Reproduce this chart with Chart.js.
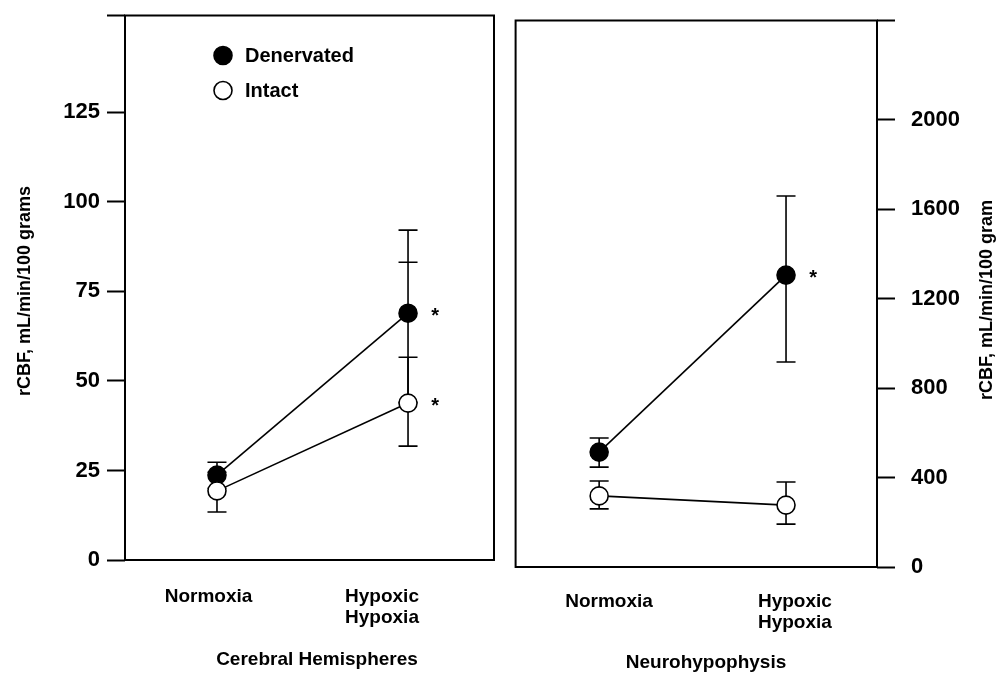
<!DOCTYPE html>
<html>
<head>
<meta charset="utf-8">
<script src="https://cdn.jsdelivr.net/npm/chart.js@4.4.0/dist/chart.umd.min.js"></script>
<style>
  html, body { margin: 0; padding: 0; background: #fff; }
  #wrap { position: relative; width: 998px; height: 676px; }
  canvas { position: absolute; top: 0; }
  #chartLeft { left: 0; }
  #chartRight { left: 505px; }
</style>
</head>
<body>
<div id="wrap">
  <canvas id="chartLeft" width="505" height="676"></canvas>
  <canvas id="chartRight" width="493" height="676"></canvas>
</div>
<script>
// ===== Data =====
const conditions = ['Normoxia', ['Hypoxic', 'Hypoxia']];
const seriesNames = ['Denervated', 'Intact'];

// Cerebral hemispheres, rCBF mL/min/100 grams
const cerebralTicks = [0, 25, 50, 75, 100, 125];
const cerebralDenervated = [23.7, 68.9];
const cerebralDenervatedHigh = [27.3, 92.1];
const cerebralDenervatedLow = [20, 44];
const cerebralDenervatedExtraCap = [null, 83.1];
const cerebralDenervatedSig = [false, true];
const cerebralIntact = [19.3, 43.8];
const cerebralIntactHigh = [24.5, 56.6];
const cerebralIntactLow = [13.4, 31.8];
const cerebralIntactSig = [false, true];

// Neurohypophysis, rCBF mL/min/100 gram
const neuroTicks = [0, 400, 800, 1200, 1600, 2000];
const neuroDenervated = [514, 1306];
const neuroDenervatedHigh = [577, 1660];
const neuroDenervatedLow = [447, 917];
const neuroDenervatedSig = [false, true];
const neuroIntact = [318, 277];
const neuroIntactHigh = [385, 380];
const neuroIntactLow = [260, 192];
const neuroIntactSig = [false, false];

const FONT = '"Liberation Sans", Arial, Helvetica, sans-serif';

// ===== Plugins =====
const errorBars = {
  id: 'errorBars',
  beforeDatasetsDraw(chart) {
    const ctx = chart.ctx;
    const yScale = chart.scales.y;
    const cap = 9.5;
    ctx.save();
    ctx.strokeStyle = '#000';
    ctx.lineWidth = 1.6;
    chart.data.datasets.forEach((ds, di) => {
      const meta = chart.getDatasetMeta(di);
      meta.data.forEach((pt, i) => {
        const yHi = yScale.getPixelForValue(ds.errHigh[i]);
        const yLo = yScale.getPixelForValue(ds.errLow[i]);
        ctx.beginPath();
        ctx.moveTo(pt.x, yHi); ctx.lineTo(pt.x, yLo);
        ctx.moveTo(pt.x - cap, yHi); ctx.lineTo(pt.x + cap, yHi);
        ctx.moveTo(pt.x - cap, yLo); ctx.lineTo(pt.x + cap, yLo);
        if (ds.errExtra && ds.errExtra[i] != null) {
          const yEx = yScale.getPixelForValue(ds.errExtra[i]);
          ctx.moveTo(pt.x - cap, yEx); ctx.lineTo(pt.x + cap, yEx);
        }
        ctx.stroke();
      });
    });
    ctx.restore();
  },
  afterDatasetsDraw(chart) {
    // significance marks
    const ctx = chart.ctx;
    ctx.save();
    ctx.fillStyle = '#000';
    ctx.font = 'bold 20px ' + FONT;
    ctx.textAlign = 'center';
    ctx.textBaseline = 'middle';
    chart.data.datasets.forEach((ds, di) => {
      const meta = chart.getDatasetMeta(di);
      meta.data.forEach((pt, i) => {
        if (ds.sig[i]) ctx.fillText('*', pt.x + 27, pt.y + 3);
      });
    });
    ctx.restore();
  }
};

const panelBox = {
  id: 'panelBox',
  beforeDatasetsDraw(chart) {
    const { ctx, chartArea: a } = chart;
    ctx.save();
    ctx.strokeStyle = '#000';
    ctx.lineWidth = 2;
    ctx.strokeRect(a.left, a.top, a.right - a.left, a.bottom - a.top);
    ctx.restore();
  }
};

const freeText = {
  id: 'freeText',
  afterDraw(chart, args, opts) {
    const ctx = chart.ctx;
    ctx.save();
    ctx.fillStyle = '#000';
    ctx.textAlign = 'center';
    ctx.textBaseline = 'middle';
    (opts.items || []).forEach(it => {
      ctx.save();
      ctx.font = it.font;
      ctx.translate(it.x, it.y);
      if (it.rotate) ctx.rotate(it.rotate);
      ctx.fillText(it.text, 0, 0);
      ctx.restore();
    });
    // in-panel legend
    if (opts.legend) {
      const lg = opts.legend;
      const a = chart.chartArea;
      ctx.font = 'bold 20px ' + FONT;
      ctx.textAlign = 'left';
      chart.data.datasets.forEach((ds, i) => {
        const cx = a.left + lg.dx;
        const cy = a.top + lg.dy + i * lg.gap;
        ctx.beginPath();
        ctx.arc(cx, cy, 9, 0, Math.PI * 2);
        ctx.fillStyle = ds.pointBackgroundColor;
        ctx.fill();
        ctx.lineWidth = 1.6;
        ctx.strokeStyle = '#000';
        ctx.stroke();
        ctx.fillStyle = '#000';
        ctx.fillText(ds.label, cx + 22, cy + 1);
      });
    }
    ctx.restore();
  }
};

// ===== Chart builder =====
function makeDataset(label, values, hi, lo, extra, sig, fill, order) {
  return {
    label,
    data: values.map((v, i) => ({ x: i, y: v })),
    errHigh: hi,
    errLow: lo,
    errExtra: extra,
    sig,
    order,
    borderColor: '#000',
    borderWidth: 1.6,
    pointRadius: 9,
    pointHoverRadius: 9,
    pointBorderWidth: 1.6,
    pointBorderColor: '#000',
    pointBackgroundColor: fill,
    showLine: true,
    tension: 0
  };
}

function makeChart(canvasId, cfg) {
  return new Chart(document.getElementById(canvasId), {
    type: 'scatter',
    data: { datasets: cfg.datasets },
    options: {
      responsive: false,
      animation: false,
      devicePixelRatio: 1,
      layout: { padding: cfg.padding },
      plugins: {
        legend: { display: false },
        tooltip: { enabled: false },
        freeText: { items: cfg.texts, legend: cfg.legend }
      },
      scales: {
        x: { type: 'linear', min: cfg.xMin, max: cfg.xMax, display: false },
        xl: {
          type: 'linear', position: 'bottom', min: cfg.lMin, max: cfg.lMax,
          afterBuildTicks: s => { s.ticks = conditions.map((c, i) => ({ value: i })); },
          afterFit: s => { s.height = cfg.xHeight; s.paddingLeft = 0; s.paddingRight = 0; },
          grid: { display: false },
          border: { display: false },
          ticks: {
            autoSkip: false, maxRotation: 0, padding: cfg.labelPad, color: '#000',
            font: { family: FONT, size: 19, weight: 'bold', lineHeight: 1.1 },
            callback: (v, i) => conditions[i]
          }
        },
        y: {
          position: cfg.yPos, min: 0, max: cfg.yMax,
          afterBuildTicks: s => {
            s.ticks = cfg.yTicks.map(v => ({ value: v })).concat([{ value: cfg.yMax }]);
          },
          afterFit: s => { s.width = cfg.yWidth; s.paddingTop = 0; s.paddingBottom = 0; },
          grid: { drawOnChartArea: false, tickLength: 18, tickWidth: 2, color: '#000' },
          border: { display: false },
          ticks: {
            autoSkip: false, padding: cfg.tickPad, color: '#000',
            font: { family: FONT, size: 22, weight: 'bold' },
            callback: v => (v === cfg.yMax ? '' : v)
          }
        }
      }
    },
    plugins: [panelBox, errorBars, freeText]
  });
}

// ===== Left panel: Cerebral Hemispheres =====
makeChart('chartLeft', {
  datasets: [
    makeDataset(seriesNames[0], cerebralDenervated, cerebralDenervatedHigh, cerebralDenervatedLow,
      cerebralDenervatedExtraCap, cerebralDenervatedSig, '#000', 1),
    makeDataset(seriesNames[1], cerebralIntact, cerebralIntactHigh, cerebralIntactLow,
      null, cerebralIntactSig, '#fff', 0)
  ],
  padding: { left: 0, right: 11, top: 15.5, bottom: 0 },
  xMin: -0.4815, xMax: 1.45,
  lMin: -0.4813, lMax: 1.6455,
  xHeight: 116, labelPad: 18,
  yPos: 'left', yMax: 152, yTicks: cerebralTicks, yWidth: 125, tickPad: 7,
  legend: { dx: 98, dy: 40, gap: 35 },
  texts: [
    { text: 'rCBF, mL/min/100 grams', x: 25, y: 291, rotate: -Math.PI / 2, font: 'bold 18px ' + FONT },
    { text: 'Cerebral Hemispheres', x: 317, y: 660, font: 'bold 19px ' + FONT }
  ]
});

// ===== Right panel: Neurohypophysis =====
makeChart('chartRight', {
  datasets: [
    makeDataset(seriesNames[0], neuroDenervated, neuroDenervatedHigh, neuroDenervatedLow,
      null, neuroDenervatedSig, '#000', 1),
    makeDataset(seriesNames[1], neuroIntact, neuroIntactHigh, neuroIntactLow,
      null, neuroIntactSig, '#fff', 0)
  ],
  padding: { left: 6.5, right: 0, top: 20.5, bottom: 0 },
  xMin: -0.4471, xMax: 1.4868,
  lMin: -0.5026, lMax: 1.4415,
  xHeight: 109, labelPad: 16,
  yPos: 'right', yMax: 2445, yTicks: neuroTicks, yWidth: 121, tickPad: 16,
  legend: null,
  texts: [
    { text: 'rCBF, mL/min/100 gram', x: 482, y: 300, rotate: -Math.PI / 2, font: 'bold 18px ' + FONT },
    { text: 'Neurohypophysis', x: 201, y: 663, font: 'bold 19px ' + FONT }
  ]
});
</script>
</body>
</html>
